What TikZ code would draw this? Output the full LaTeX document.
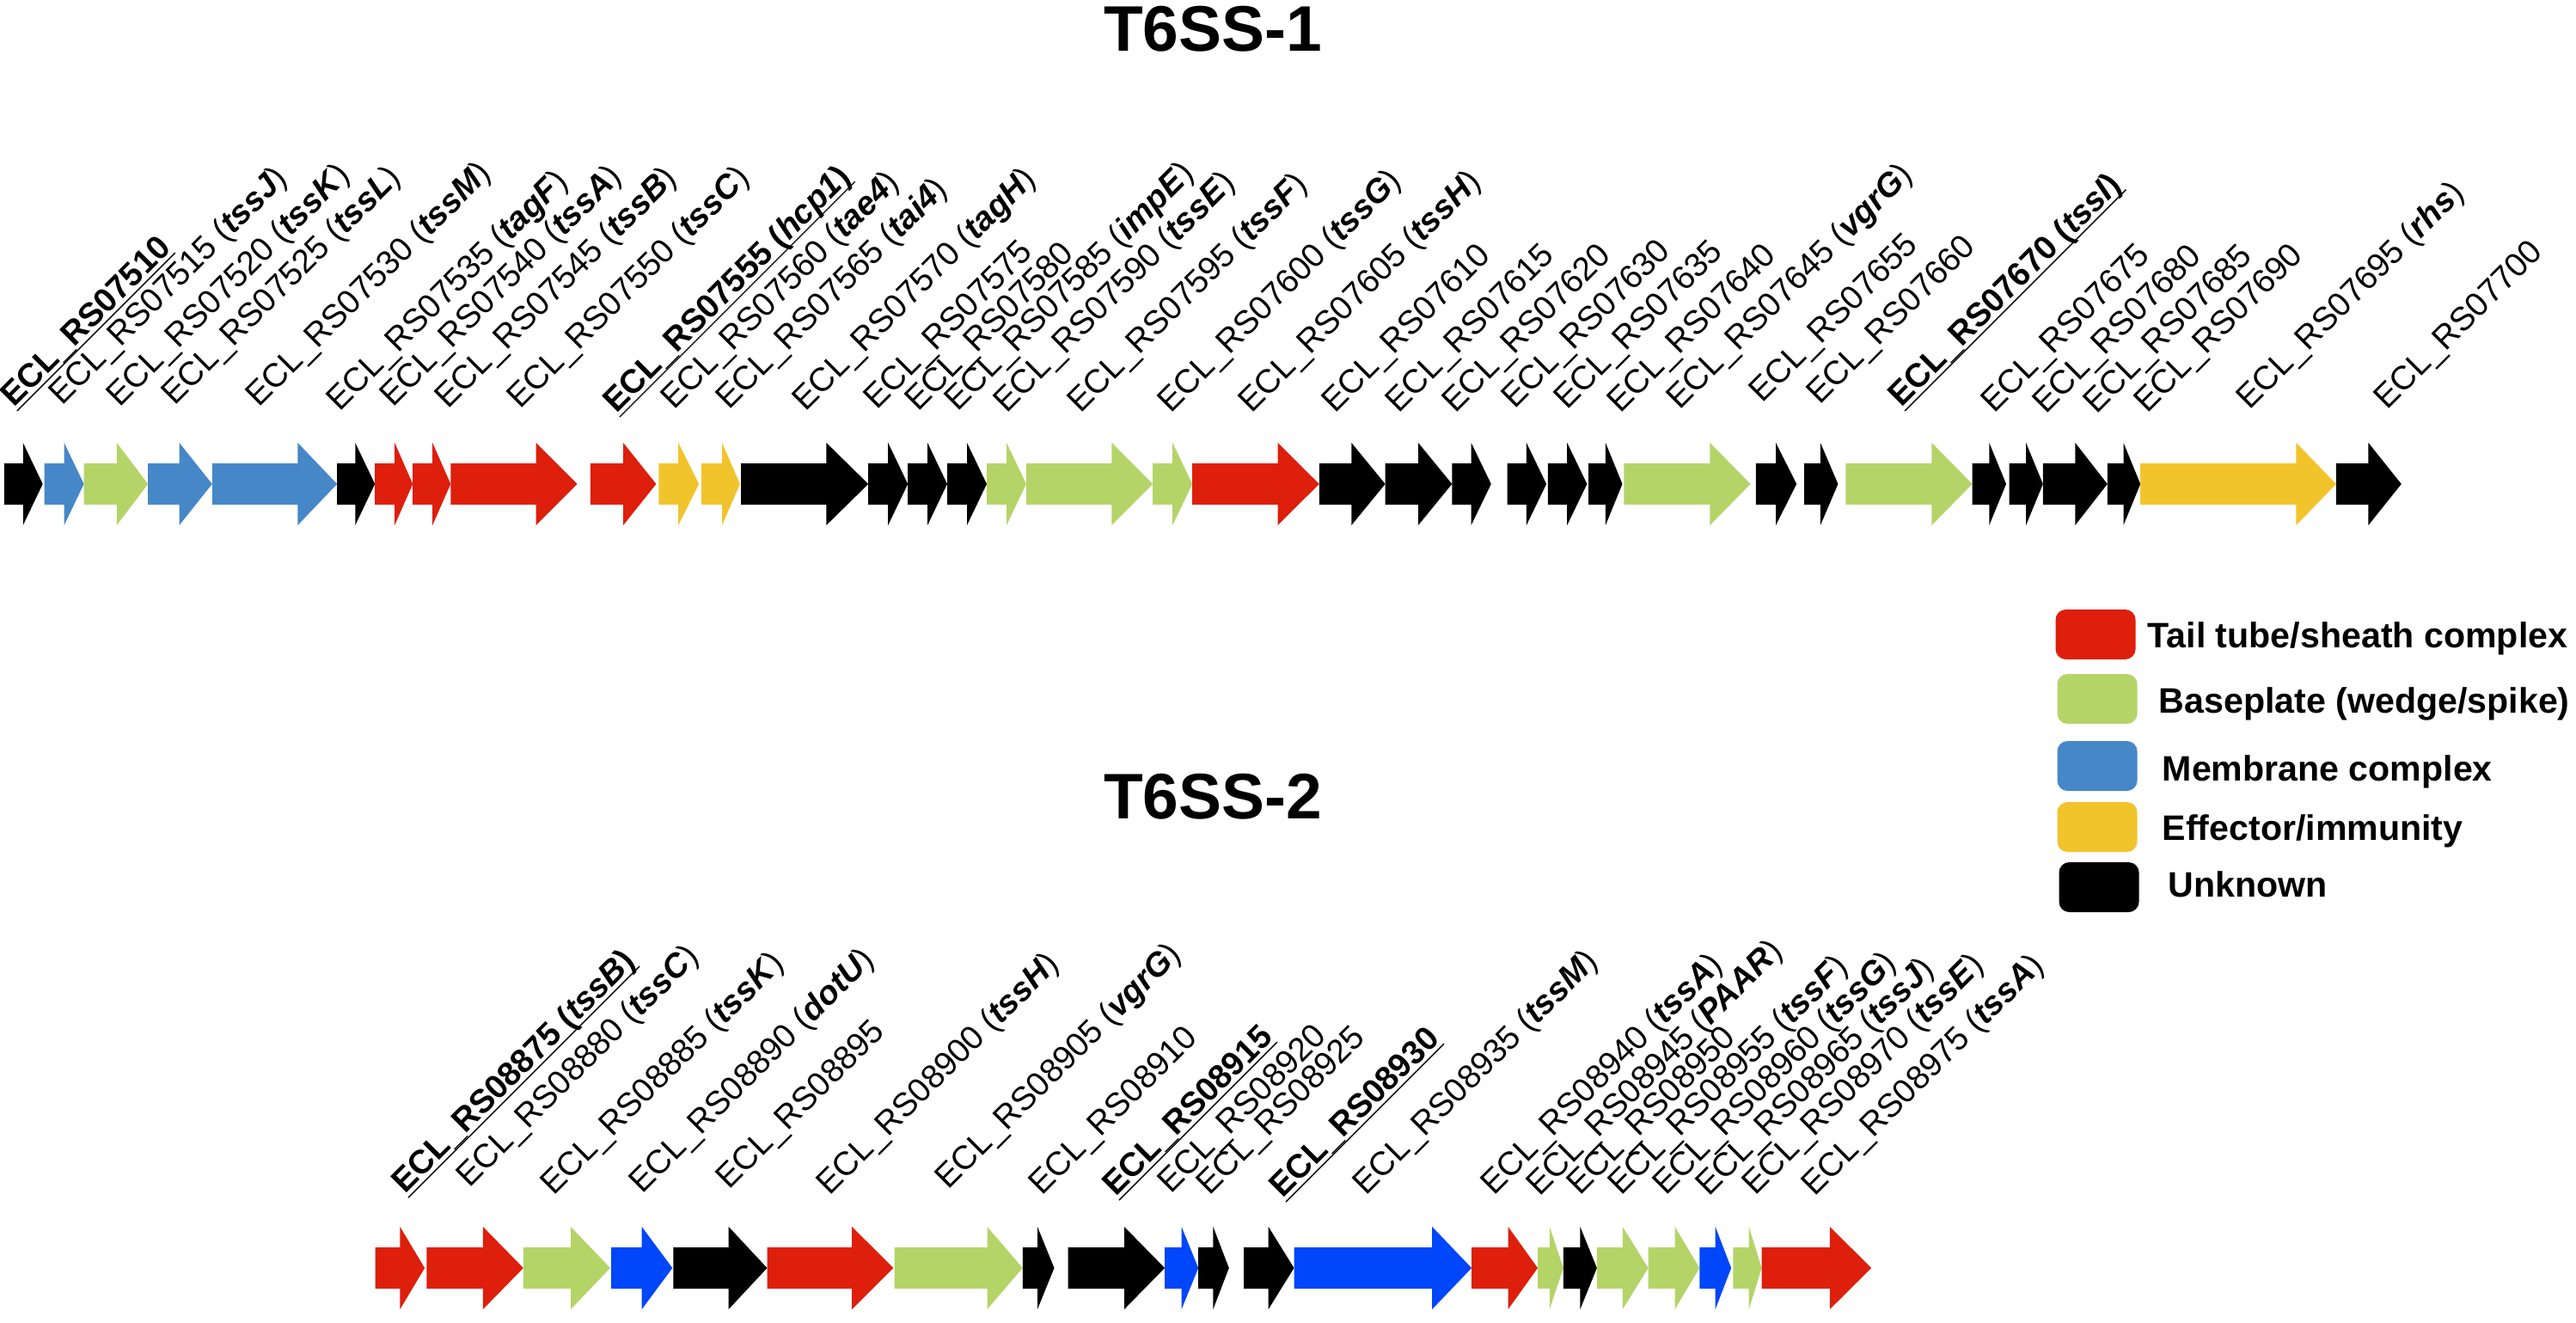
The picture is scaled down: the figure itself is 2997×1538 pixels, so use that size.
\documentclass[tikz,border=0pt]{standalone}
\usepackage{fontspec}
\setmainfont{Liberation Sans}
\usetikzlibrary{positioning}

\definecolor{tailred}{RGB}{221,31,12}
\definecolor{basegreen}{RGB}{180,212,104}
\definecolor{membblue}{RGB}{70,135,200}
\definecolor{brightblue}{RGB}{0,70,250}
\definecolor{effyellow}{RGB}{242,196,44}

\newcommand{\gn}[1]{\textbf{\textit{#1}}}
\newcommand{\ulbl}[1]{\underline{\smash{\textbf{#1}}}}
% gene arrow: start, head base, tip, centre y, colour
\newcommand{\gene}[5]{\fill[#5] (#1,#4-24) -- (#2,#4-24) -- (#2,#4-48) -- (#3,#4) -- (#2,#4+48) -- (#2,#4+24) -- (#1,#4+24) -- cycle;}

\begin{document}
\begin{tikzpicture}[x=0.01cm, y=-0.01cm,
    lbl/.style={rotate=45, anchor=base west, inner sep=0pt, font=\fontsize{11}{13}\selectfont},
    systitle/.style={anchor=base, inner sep=0pt, font=\fontsize{21.3}{25}\selectfont\bfseries},
    keybox/.style={rounded corners=0.12cm, minimum width=0.93cm, minimum height=0.58cm, inner sep=0pt},
    keytext/.style={anchor=base west, inner sep=0pt, font=\fontsize{11.7}{14}\selectfont\bfseries}]
    \useasboundingbox (0,0) rectangle (2997,1538);

    \node[systitle] (title1) at (1411, 59) {T6SS-1};
    \node[systitle] (title2) at (1411, 952) {T6SS-2};

    % T6SS-1 labels
    \node[lbl] (a07510) at (16, 475) {\ulbl{ECL\_RS07510}};
    \node[lbl] (a07515) at (72, 473) {ECL\_RS07515 (\gn{tssJ})};
    \node[lbl] (a07520) at (139, 475) {ECL\_RS07520 (\gn{tssK})};
    \node[lbl] (a07525) at (203, 473) {ECL\_RS07525 (\gn{tssL})};
    \node[lbl] (a07530) at (301, 475) {ECL\_RS07530 (\gn{tssM})};
    \node[lbl] (a07535) at (395, 480) {ECL\_RS07535 (\gn{tagF})};
    \node[lbl] (a07540) at (457, 475) {ECL\_RS07540 (\gn{tssA})};
    \node[lbl] (a07545) at (521, 477) {ECL\_RS07545 (\gn{tssB})};
    \node[lbl] (a07550) at (605, 477) {ECL\_RS07550 (\gn{tssC})};
    \node[lbl] (a07555) at (717, 482) {\ulbl{ECL\_RS07555 (\textit{hcp1})}};
    \node[lbl] (a07560) at (784, 478) {ECL\_RS07560 (\gn{tae4})};
    \node[lbl] (a07565) at (848, 478) {ECL\_RS07565 (\gn{tai4})};
    \node[lbl] (a07570) at (937, 480) {ECL\_RS07570 (\gn{tagH})};
    \node[lbl] (a07575) at (1020, 478) {ECL\_RS07575};
    \node[lbl] (a07580) at (1068, 480) {ECL\_RS07580};
    \node[lbl] (a07585) at (1114, 480) {ECL\_RS07585 (\gn{impE})};
    \node[lbl] (a07590) at (1171, 482) {ECL\_RS07590 (\gn{tssE})};
    \node[lbl] (a07595) at (1257, 482) {ECL\_RS07595 (\gn{tssF})};
    \node[lbl] (a07600) at (1362, 482) {ECL\_RS07600 (\gn{tssG})};
    \node[lbl] (a07605) at (1456, 482) {ECL\_RS07605 (\gn{tssH})};
    \node[lbl] (a07610) at (1553, 482) {ECL\_RS07610};
    \node[lbl] (a07615) at (1627, 482) {ECL\_RS07615};
    \node[lbl] (a07620) at (1693, 482) {ECL\_RS07620};
    \node[lbl] (a07630) at (1762, 477) {ECL\_RS07630};
    \node[lbl] (a07635) at (1823, 478) {ECL\_RS07635};
    \node[lbl] (a07640) at (1885, 482) {ECL\_RS07640};
    \node[lbl] (a07645) at (1954, 478) {ECL\_RS07645 (\gn{vgrG})};
    \node[lbl] (a07655) at (2050, 470) {ECL\_RS07655};
    \node[lbl] (a07660) at (2117, 472) {ECL\_RS07660};
    \node[lbl] (a07670) at (2212, 475) {\ulbl{ECL\_RS07670 (\textit{tssI})}};
    \node[lbl] (a07675) at (2320, 482) {ECL\_RS07675};
    \node[lbl] (a07680) at (2380, 483) {ECL\_RS07680};
    \node[lbl] (a07685) at (2439, 483) {ECL\_RS07685};
    \node[lbl] (a07690) at (2498, 482) {ECL\_RS07690};
    \node[lbl] (a07695) at (2617, 478) {ECL\_RS07695 (\gn{rhs})};
    \node[lbl] (a07700) at (2777, 478) {ECL\_RS07700};

    % T6SS-1 genes
    \gene{4.8}{26.8}{49.7}{563}{black}
    \gene{51.7}{74.6}{97.6}{563}{membblue}
    \gene{97.6}{135.8}{172.2}{563}{basegreen}
    \gene{172.2}{208.6}{246.8}{563}{membblue}
    \gene{246.8}{346.3}{392.2}{563}{membblue}
    \gene{392.2}{413.3}{436.2}{563}{black}
    \gene{436.2}{459.2}{480.2}{563}{tailred}
    \gene{480.2}{503.2}{524.3}{563}{tailred}
    \gene{524.3}{623.7}{671.6}{563}{tailred}
    \gene{686.9}{725.1}{763.4}{563}{tailred}
    \gene{766.3}{789.2}{813.2}{563}{effyellow}
    \gene{816}{840}{861}{563}{effyellow}
    \gene{862}{961.4}{1010.2}{563}{black}
    \gene{1010.2}{1033.2}{1056.2}{563}{black}
    \gene{1056.2}{1079.1}{1102}{563}{black}
    \gene{1102}{1125}{1148}{563}{black}
    \gene{1148}{1171}{1194}{563}{basegreen}
    \gene{1194}{1293.4}{1341.2}{563}{basegreen}
    \gene{1341.2}{1364.2}{1387.2}{563}{basegreen}
    \gene{1387.2}{1486.5}{1534.8}{563}{tailred}
    \gene{1534.8}{1572.3}{1611.6}{563}{black}
    \gene{1611.6}{1650}{1689.3}{563}{black}
    \gene{1689.3}{1711.6}{1734.8}{563}{black}
    \gene{1753.6}{1775.9}{1799.1}{563}{black}
    \gene{1800.9}{1823.2}{1846.4}{563}{black}
    \gene{1848.2}{1867.9}{1887.5}{563}{black}
    \gene{1889.3}{1989.3}{2036.6}{563}{basegreen}
    \gene{2042.9}{2066}{2090.2}{563}{black}
    \gene{2099.1}{2117.9}{2138.4}{563}{black}
    \gene{2147.3}{2247.3}{2294.6}{563}{basegreen}
    \gene{2294.6}{2314.3}{2334}{563}{black}
    \gene{2337.5}{2357.1}{2376.8}{563}{black}
    \gene{2376.8}{2414.3}{2451.8}{563}{black}
    \gene{2451.8}{2470.5}{2490.2}{563}{black}
    \gene{2490.2}{2671.4}{2717.9}{563}{effyellow}
    \gene{2717.9}{2755.4}{2793.8}{563}{black}

    % T6SS-2 labels
    \node[lbl] (b08875) at (471, 1390) {\ulbl{ECL\_RS08875 (\textit{tssB})}};
    \node[lbl] (b08880) at (546, 1383) {ECL\_RS08880 (\gn{tssC})};
    \node[lbl] (b08885) at (644, 1392) {ECL\_RS08885 (\gn{tssK})};
    \node[lbl] (b08890) at (747, 1390) {ECL\_RS08890 (\gn{dotU})};
    \node[lbl] (b08895) at (848, 1385) {ECL\_RS08895};
    \node[lbl] (b08900) at (965, 1392) {ECL\_RS08900 (\gn{tssH})};
    \node[lbl] (b08905) at (1103, 1385) {ECL\_RS08905 (\gn{vgrG})};
    \node[lbl] (b08910) at (1212, 1392) {ECL\_RS08910};
    \node[lbl] (b08915) at (1298, 1393) {\ulbl{ECL\_RS08915}};
    \node[lbl] (b08920) at (1362, 1390) {ECL\_RS08920};
    \node[lbl] (b08925) at (1407, 1392) {ECL\_RS08925};
    \node[lbl] (b08930) at (1492, 1395) {\ulbl{ECL\_RS08930}};
    \node[lbl] (b08935) at (1589, 1392) {ECL\_RS08935 (\gn{tssM})};
    \node[lbl] (b08940) at (1738, 1392) {ECL\_RS08940 (\gn{tssA})};
    \node[lbl] (b08945) at (1791, 1393) {ECL\_RS08945 (\gn{PAAR})};
    \node[lbl] (b08950) at (1838, 1392) {ECL\_RS08950};
    \node[lbl] (b08955) at (1886, 1392) {ECL\_RS08955 (\gn{tssF})};
    \node[lbl] (b08960) at (1938, 1392) {ECL\_RS08960 (\gn{tssG})};
    \node[lbl] (b08965) at (1988, 1393) {ECL\_RS08965 (\gn{tssJ})};
    \node[lbl] (b08970) at (2042, 1392) {ECL\_RS08970 (\gn{tssE})};
    \node[lbl] (b08975) at (2111, 1393) {ECL\_RS08975 (\gn{tssA})};

    % T6SS-2 genes
    \gene{436.7}{465.4}{494.1}{1475}{tailred}
    \gene{496.4}{561.9}{608.9}{1475}{tailred}
    \gene{608.9}{664}{710}{1475}{basegreen}
    \gene{711.1}{746.7}{782.3}{1475}{brightblue}
    \gene{783.4}{847.7}{892.5}{1475}{black}
    \gene{892.5}{991.2}{1039.4}{1475}{tailred}
    \gene{1040.6}{1148.5}{1189.8}{1475}{basegreen}
    \gene{1189.8}{1207}{1226.5}{1475}{black}
    \gene{1242.6}{1308}{1355.1}{1475}{black}
    \gene{1355.1}{1374.6}{1394.2}{1475}{brightblue}
    \gene{1394.2}{1411.4}{1429.8}{1475}{black}
    \gene{1447}{1475.7}{1505.5}{1475}{black}
    \gene{1505.5}{1666.2}{1712.1}{1475}{brightblue}
    \gene{1712.1}{1754.6}{1789}{1475}{tailred}
    \gene{1789}{1802.8}{1818.9}{1475}{basegreen}
    \gene{1818.9}{1838.4}{1857.9}{1475}{black}
    \gene{1857.9}{1887.8}{1917.6}{1475}{basegreen}
    \gene{1917.6}{1948.6}{1977.3}{1475}{basegreen}
    \gene{1977.3}{1995.7}{2014.1}{1475}{brightblue}
    \gene{2016.3}{2034.7}{2049.6}{1475}{basegreen}
    \gene{2049.6}{2128.9}{2177.1}{1475}{tailred}

    % key
    \node[keybox, fill=tailred] (keyred) at (2438, 738) {};
    \node[keybox, fill=basegreen] (keygreen) at (2440, 813) {};
    \node[keybox, fill=membblue] (keyblue) at (2440, 891) {};
    \node[keybox, fill=effyellow] (keyyellow) at (2440, 962) {};
    \node[keybox, fill=black] (keyblack) at (2442, 1032) {};
    \node[keytext] (txtred) at (2498, 753) {Tail tube/sheath complex};
    \node[keytext] (txtgreen) at (2511, 829) {Baseplate (wedge/spike)};
    \node[keytext] (txtblue) at (2515, 908) {Membrane complex};
    \node[keytext] (txtyellow) at (2515, 977) {Effector/immunity};
    \node[keytext] (txtblack) at (2522, 1043) {Unknown};
\end{tikzpicture}
\end{document}
